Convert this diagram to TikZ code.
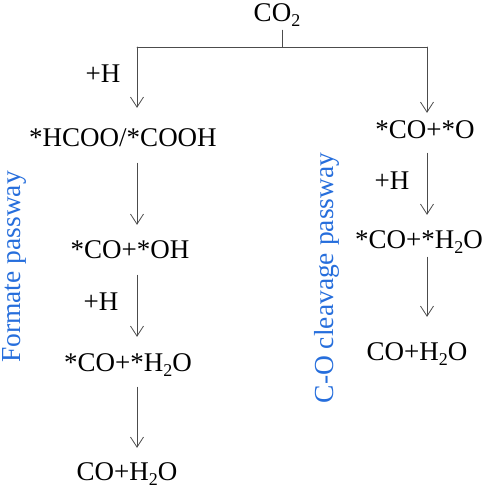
\documentclass[tikz,border=0pt]{standalone}
\usepackage{fontspec}
\setmainfont{Liberation Serif}
\usetikzlibrary{arrows.meta}
\definecolor{viablu}{RGB}{38,110,220}
\newcommand{\pedice}[1]{\raisebox{-0.2em}{\fontsize{18}{18}\selectfont #1}}
\begin{document}
\begin{tikzpicture}[x=1pt,y=-1pt,line join=round,line cap=round,
    font=\fontsize{27}{32}\selectfont,
    specie/.style={inner sep=0pt,text height=18pt,text depth=6pt},
    via/.style={inner sep=0pt,text=viablu,rotate=90,font=\fontsize{27.5}{32}\selectfont},
    ramo/.style={line width=0.8pt,draw=black!70},
    freccia/.style={ramo,-{Straight Barb[length=10pt,width=13pt,line width=0.8pt]}}]

  \useasboundingbox (0,0) rectangle (484,490);

  % ---- reagente e biforcazione ----------------------------------------------
  \node[specie] (co2) at (277,15) {CO\pedice{2}};
  \coordinate (fork) at (282,47);
  \coordinate (colL) at (137,47);
  \coordinate (colR) at (427,47);

  % ---- via del formiato ------------------------------------------------------
  \node[specie] (L1) at (123,140) {*HCOO/*COOH};
  \node[specie] (L2) at (130,252) {*CO+*OH};
  \node[specie] (L3) at (128,365) {*CO+*H\pedice{2}O};
  \node[specie] (L4) at (127,474) {CO+H\pedice{2}O};

  \node[specie] (hA) at (103,76)  {+H};
  \node[specie] (hB) at (101,304) {+H};

  % ---- via di rottura C-O ------------------------------------------------------
  \node[specie] (R1) at (425,132) {*CO+*O};
  \node[specie] (R2) at (419,242) {*CO+*H\pedice{2}O};
  \node[specie] (R3) at (417,354) {CO+H\pedice{2}O};

  \node[specie] (hC) at (392,183) {+H};

  % ---- nomi delle vie --------------------------------------------------------
  \node[via] (formiato) at (14,267)  {Formate passway};
  \node[via] (rottura)  at (327,278) {C-O cleavage passway};

  % ---- collegamenti ----------------------------------------------------------
  \draw[ramo,shorten <=3pt] (co2.south -| fork) -- (fork);
  \draw[ramo] (colL) -- (colR);

  \draw[freccia,shorten >=20pt] (colL) -- (L1.north -| colL);
  \draw[freccia,shorten <=11pt,shorten >=15pt] (L1.south -| colL) -- (L2.north -| colL);
  \draw[freccia,shorten <=11pt,shorten >=16pt] (L2.south -| colL) -- (L3.north -| colL);
  \draw[freccia,shorten <=10pt,shorten >=14pt] (L3.south -| colL) -- (L4.north -| colL);

  \draw[freccia,shorten >=7pt] (colR) -- (R1.north -| colR);
  \draw[freccia,shorten <=9pt,shorten >=15pt] (R1.south -| colR) -- (R2.north -| colR);
  \draw[freccia,shorten <=3pt,shorten >=25pt] (R2.south -| colR) -- (R3.north -| colR);

\end{tikzpicture}
\end{document}
